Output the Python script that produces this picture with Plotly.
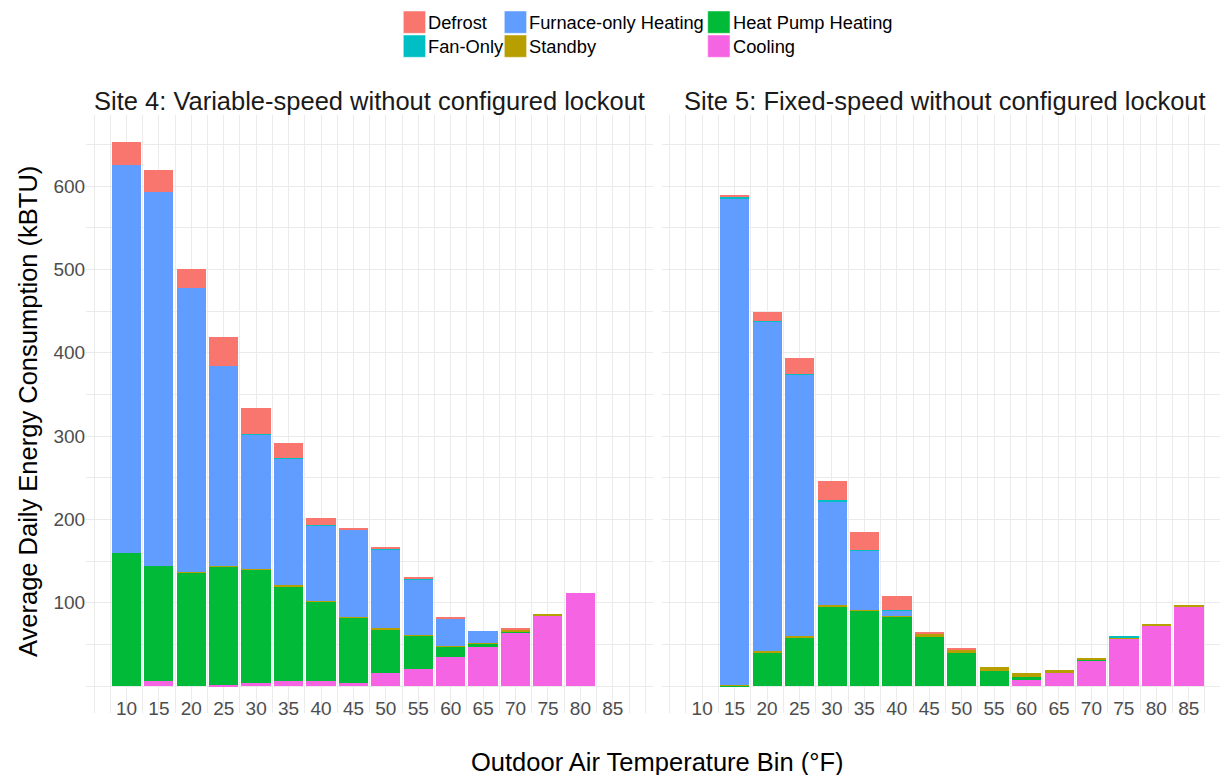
import plotly.graph_objects as go

# Temperature bins (°F) for each site
temps_site4 = [10, 15, 20, 25, 30, 35, 40, 45, 50, 55, 60, 65, 70, 75, 80]
temps_site5 = [15, 20, 25, 30, 35, 40, 45, 50, 55, 60, 65, 70, 75, 80, 85]

# Site 4: average daily energy by mode (kBTU)
s4_cooling   = [0, 6, 0, 1.6, 3.6, 6, 6, 4, 15.6, 20.8, 34.8, 47.2, 63.6, 84.8, 111.6]
s4_heatpump  = [160, 138, 136, 142.4, 136, 114, 95.5, 78.5, 52.8, 39.6, 12.6, 3.6, 2.4, 0.3, 0]
s4_standby   = [0, 0, 0.5, 0.5, 1, 1, 1, 1, 1, 1, 1, 1.2, 1.5, 1.3, 0]
s4_furnace   = [465, 449, 341.5, 239.5, 161.8, 152.6, 90.3, 104.5, 94.6, 66.6, 32.8, 14, 0.5, 0, 0]
s4_fanonly   = [0, 0, 0, 0, 0.3, 0.2, 0.3, 0.3, 1.2, 1, 0.4, 0, 0.3, 0, 0]
s4_defrost   = [27.8, 26, 23, 35, 31.2, 18.4, 8.6, 1.2, 1.2, 1, 0.8, 0, 1.3, 0, 0]

# Site 5: average daily energy by mode (kBTU)
s5_cooling   = [0, 0, 0, 0, 0, 0, 0, 0, 0, 7.6, 15.6, 30.4, 57.6, 73.3, 96]
s5_heatpump  = [1, 40.8, 59, 96, 91, 83.2, 59.5, 39.6, 18, 3.2, 0, 1.6, 0, 0, 0]
s5_standby   = [1, 1, 1.5, 1, 1, 1.6, 4, 3.6, 5.6, 4.8, 3.6, 2.4, 0.4, 1.5, 1.2]
s5_furnace   = [583.6, 395.4, 313, 125.2, 71.2, 6.4, 0, 0, 0, 0, 0, 0, 0, 0, 0]
s5_fanonly   = [2, 0.8, 0.9, 1.4, 0.8, 0.4, 0.2, 0, 0, 0, 0, 0, 2, 0, 0]
s5_defrost   = [1.2, 11.6, 19.6, 22.4, 21.6, 16.4, 1.5, 2.8, 0, 0, 0, 0, 0, 0, 0]

x_ticks = [10, 15, 20, 25, 30, 35, 40, 45, 50, 55, 60, 65, 70, 75, 80, 85]
y_ticks = [100, 200, 300, 400, 500, 600]

panel_titles = ["Site 4: Variable-speed without configured lockout",
                "Site 5: Fixed-speed without configured lockout"]
x_title = "Outdoor Air Temperature Bin (°F)"
y_title = "Average Daily Energy Consumption (kBTU)"

# Mode names in legend order (column-major) and their fill colours
modes = ["Defrost", "Fan-Only", "Furnace-only Heating", "Standby", "Heat Pump Heating", "Cooling"]
colors = {
    "Defrost": "#F8766D",
    "Fan-Only": "#00BFC4",
    "Furnace-only Heating": "#619CFF",
    "Standby": "#B79F00",
    "Heat Pump Heating": "#00BA38",
    "Cooling": "#F564E3",
}

site4 = {"Cooling": s4_cooling, "Heat Pump Heating": s4_heatpump, "Standby": s4_standby,
         "Furnace-only Heating": s4_furnace, "Fan-Only": s4_fanonly, "Defrost": s4_defrost}
site5 = {"Cooling": s5_cooling, "Heat Pump Heating": s5_heatpump, "Standby": s5_standby,
         "Furnace-only Heating": s5_furnace, "Fan-Only": s5_fanonly, "Defrost": s5_defrost}

# stacking order, bottom to top
stack_order = ["Cooling", "Heat Pump Heating", "Standby", "Furnace-only Heating", "Fan-Only", "Defrost"]

W, H = 1220, 775
FONT = "Liberation Sans, Arial, sans-serif"
GRID = "#EBEBEB"
TICK_SIZE = 19
TITLE_SIZE = 25.5
LEGEND_SIZE = 18.3


def px_x(x):
    return x / W


def px_y(y):
    return 1 - y / H


fig = go.Figure()
for xa, ya, temps, data in [("x", "y", temps_site4, site4), ("x2", "y2", temps_site5, site5)]:
    for m in stack_order:
        fig.add_trace(go.Bar(
            x=temps, y=data[m], name=m, width=4.5,
            marker=dict(color=colors[m], line=dict(width=0)),
            xaxis=xa, yaxis=ya, showlegend=False,
            hovertemplate=m + ": %{y}<extra></extra>",
        ))

minor_x = [5 + 2.5 * i for i in range(35)]
minor_y = [50 * i for i in range(14)]

x_common = dict(
    tickmode="array", tickvals=x_ticks, ticktext=[str(t) for t in x_ticks],
    showgrid=True, gridcolor=GRID, gridwidth=1.4, zeroline=False, showline=False,
    ticks="", ticklabelstandoff=-18,
    tickfont=dict(family=FONT, size=TICK_SIZE, color="#4D4D4D"),
    minor=dict(tickmode="array", tickvals=minor_x, showgrid=True, gridcolor=GRID, gridwidth=1.0),
)
y_common = dict(
    range=[-32.64, 685.44], tickmode="array", tickvals=y_ticks,
    showgrid=True, gridcolor=GRID, gridwidth=1.4, zeroline=False, showline=False,
    ticks="", tickfont=dict(family=FONT, size=TICK_SIZE, color="#4D4D4D"),
    minor=dict(tickmode="array", tickvals=minor_y, showgrid=True, gridcolor=GRID, gridwidth=1.0),
)

y_dom = [px_y(713.2), px_y(114.8)]

fig.update_layout(
    width=W, height=H,
    margin=dict(l=0, r=0, t=0, b=0),
    paper_bgcolor="white", plot_bgcolor="white",
    barmode="stack", bargap=0,
    showlegend=False,
    font=dict(family=FONT),
    xaxis=dict(domain=[px_x(86.1), px_x(653.2)], range=[3.775, 91.225], anchor="y", **x_common),
    xaxis2=dict(domain=[px_x(661.8), 1.0], range=[3.775, 89.82], anchor="y2", **x_common),
    yaxis=dict(domain=y_dom, anchor="x", **y_common),
    yaxis2=dict(domain=y_dom, anchor="x2", matches="y", showticklabels=False,
                **{k: v for k, v in y_common.items() if k != "range"}),
)

annotations = []
# Panel titles
for cx, txt in [((86.1 + 653.2) / 2, panel_titles[0]), ((661.8 + 1228.9) / 2, panel_titles[1])]:
    annotations.append(dict(x=px_x(cx), y=px_y(101), xref="paper", yref="paper",
                            text=txt, showarrow=False, xanchor="center", yanchor="middle",
                            font=dict(family=FONT, size=TITLE_SIZE, color="#1A1A1A")))
# Axis titles
annotations.append(dict(x=px_x(657.5), y=px_y(762), xref="paper", yref="paper", text=x_title,
                        showarrow=False, xanchor="center", yanchor="middle",
                        font=dict(family=FONT, size=TITLE_SIZE, color="black")))
annotations.append(dict(x=px_x(28), y=px_y(412), xref="paper", yref="paper", text=y_title,
                        showarrow=False, xanchor="center", yanchor="middle", textangle=-90,
                        font=dict(family=FONT, size=TITLE_SIZE, color="black")))

# Legend: three columns of two keys each
shapes = []
col_x = [403.3, 504.3, 707.7]
row_y = [11.0, 35.0]
key = 22.3
for i, m in enumerate(modes):
    c, r = divmod(i, 2)
    x0, y0 = col_x[c], row_y[r]
    shapes.append(dict(type="rect", xref="paper", yref="paper",
                       x0=px_x(x0), x1=px_x(x0 + key), y0=px_y(y0 + key), y1=px_y(y0),
                       fillcolor=colors[m], line=dict(width=0.8, color="rgba(255,255,255,0.6)")))
    annotations.append(dict(x=px_x(x0 + key + 0.5), y=px_y(y0 + key / 2), xref="paper", yref="paper",
                            text=m, showarrow=False, xanchor="left", yanchor="middle",
                            font=dict(family=FONT, size=LEGEND_SIZE, color="black")))

fig.update_layout(annotations=annotations, shapes=shapes)

fig.write_html("out.html")
